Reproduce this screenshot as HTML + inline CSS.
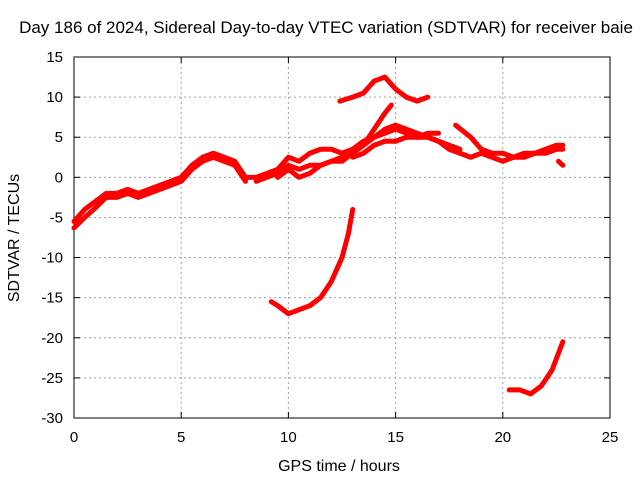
<!DOCTYPE html>
<html><head><meta charset="utf-8"><style>
body{margin:0;background:#fff}
svg text{font-family:"Liberation Sans",sans-serif;font-size:15px;fill:#000}
svg text.big{font-size:16px}
svg text.title{font-size:17px}
</style></head><body>
<svg width="640" height="480">
<rect width="640" height="480" fill="#fff"/>
<text class="title" x="326" y="33" text-anchor="middle">Day 186 of 2024, Sidereal Day-to-day VTEC variation (SDTVAR) for receiver baie</text>
<g id="grid"></g>
<g id="axes"></g>
<g id="series"></g>
<text class="big" x="339" y="471" text-anchor="middle">GPS time / hours</text>
<text class="big" transform="translate(19,238) rotate(-90)" text-anchor="middle">SDTVAR / TECUs</text>
</svg>
<script>
const xTicks=[0,5,10,15,20,25];
const yTicks=[15,10,5,0,-5,-10,-15,-20,-25,-30];
const s1=[[0,-5.5],[0.5,-4],[1,-3],[1.5,-2],[2,-2],[2.5,-1.5],[3,-2],[3.5,-1.5],[4,-1],[4.5,-0.5],[5,0],[5.5,1.5],[6,2.5],[6.5,3],[7,2.5],[7.5,2],[8,0],[8.5,0],[9,0.5],[9.5,1],[10,2.5],[10.5,2],[11,3],[11.5,3.5],[12,3.5],[12.5,3],[13,3.5],[13.5,4],[14,5],[14.5,5.5],[15,6],[15.5,5.5],[16,5],[16.5,5.5],[17,5.5]];
const s1b=[[0,-6.3],[0.5,-5],[1,-3.8],[1.5,-2.5],[2,-2.5],[2.5,-2],[3,-2.5],[3.5,-2],[4,-1.5],[4.5,-1],[5,-0.5],[5.5,1],[6,2],[6.5,2.5],[7,2],[7.5,1.5],[8,-0.5]];
const s2=[[8.5,-0.5],[9,0],[9.5,0.5],[10,1.5],[10.5,1],[11,1.5],[11.5,1.5],[12,2],[12.5,2],[13,3],[13.5,4],[14,6],[14.5,8],[14.8,9]];
const s3=[[9.5,0],[10,1],[10.5,0],[11,0.5],[11.5,1.5],[12,2],[12.5,2.5],[13,3.5],[13.5,4.5],[14,5],[14.5,6],[15,6.5],[15.5,6],[16,5.5],[16.5,5],[17,4.5],[17.5,3.5],[18,3],[18.5,2.5],[19,3],[19.5,2.5],[20,2],[20.5,2.5],[21,2.5],[21.5,3],[22,3],[22.5,3.5],[22.8,3.5]];
const s4=[[13,2.5],[13.5,3],[14,4],[14.5,4.5],[15,4.5],[15.5,5],[16,5],[16.5,5],[17,4.5],[17.5,4],[18,3.5]];
const s5=[[12.4,9.5],[13,10],[13.5,10.5],[14,12],[14.5,12.5],[15,11],[15.5,10],[16,9.5],[16.5,10]];
const s6=[[17.8,6.5],[18.5,5],[19,3.5],[19.5,3],[20,3],[20.5,2.5],[21,3],[21.5,3],[22,3.5],[22.5,4],[22.8,4]];
const s6b=[[22.6,2],[22.8,1.5]];
const s7=[[9.2,-15.5],[9.5,-16],[10,-17],[10.5,-16.5],[11,-16],[11.5,-15],[12,-13],[12.5,-10],[12.8,-7],[13,-4]];
const s8=[[20.3,-26.5],[20.8,-26.5],[21.3,-27],[21.8,-26],[22.3,-24],[22.8,-20.5]];
const allSeries=[s1,s1b,s2,s3,s4,s5,s6,s6b,s7,s8];
const X0=74,X1=610,Y0=57,Y1=418;
const sx=v=>X0+(v-0)/25*(X1-X0);
const sy=v=>Y0+(15-v)/45*(Y1-Y0);
const NS="http://www.w3.org/2000/svg";
function mk(t,a,p){const e=document.createElementNS(NS,t);for(const k in a)e.setAttribute(k,a[k]);p.appendChild(e);return e;}
const grid=document.getElementById('grid'),axes=document.getElementById('axes'),ser=document.getElementById('series');
xTicks.forEach(v=>{const x=sx(v);
 if(v>0&&v<25){const l=mk('line',{x1:x,x2:x,y1:Y0,y2:Y1,stroke:'#a0a0a0','stroke-dasharray':'2,3','stroke-width':1},grid);
 
 }
 const t=mk('text',{x:x,y:Y1+24,'text-anchor':'middle'},axes);t.textContent=v;
 
 
 mk('line',{x1:x,x2:x,y1:Y1,y2:Y1-6,stroke:'#000'},axes);mk('line',{x1:x,x2:x,y1:Y0,y2:Y0+6,stroke:'#000'},axes);});
yTicks.forEach(v=>{const y=sy(v);
 if(v<15&&v>-30){const l=mk('line',{x1:X0,x2:X1,y1:y,y2:y,stroke:'#a0a0a0','stroke-dasharray':'2,3','stroke-width':1},grid);
 
 }
 const t=mk('text',{x:X0-11,y:y+5,'text-anchor':'end'},axes);t.textContent=v;
 
 
 mk('line',{x1:X0,x2:X0+6,y1:y,y2:y,stroke:'#000'},axes);mk('line',{x1:X1,x2:X1-6,y1:y,y2:y,stroke:'#000'},axes);});
mk('rect',{x:X0,y:Y0,width:X1-X0,height:Y1-Y0,fill:'none',stroke:'#000'},axes);
allSeries.forEach(s=>{const p=mk('polyline',{points:s.map(d=>sx(d[0])+','+sy(d[1])).join(' '),fill:'none',stroke:'#f00','stroke-width':5,'stroke-linejoin':'round','stroke-linecap':'round'},ser);
 
 });
</script>
</body></html>
